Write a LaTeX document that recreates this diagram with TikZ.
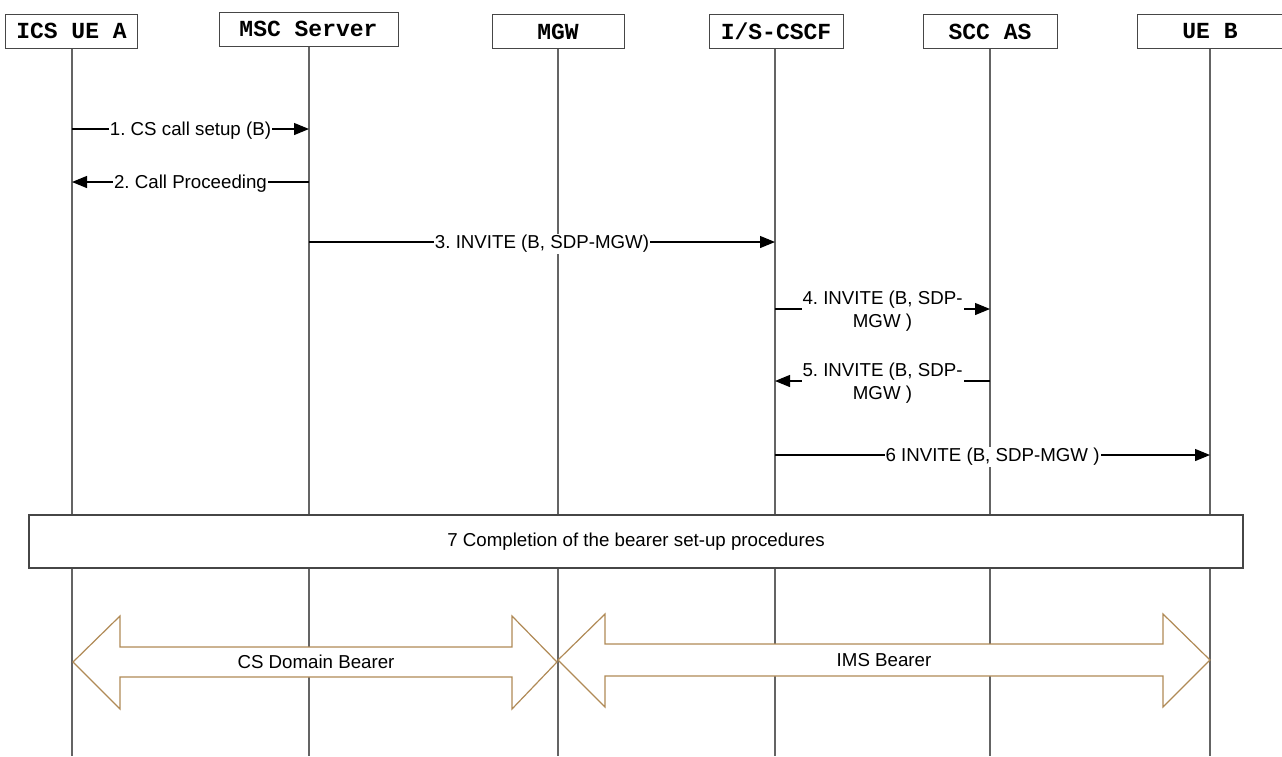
\documentclass[tikz,border=0pt]{standalone}
\usepackage{fontspec}
\setmainfont{Liberation Sans}
\newfontfamily\hdrfont{Liberation Mono}
\usetikzlibrary{arrows.meta}
\definecolor{bearer}{RGB}{176,138,86}
\definecolor{lifegray}{RGB}{100,100,100}
\definecolor{boxgray}{RGB}{70,70,70}
\frenchspacing
\begin{document}
\begin{tikzpicture}[x=1pt,y=-1pt,
  hdr/.style={draw=boxgray,line width=1pt,fill=white,font=\hdrfont\bfseries\fontsize{23}{26}\selectfont,inner sep=0pt,minimum height=34pt},
  life/.style={draw=lifegray,line width=1.3pt},
  msg/.style={draw=black,line width=1.2pt,-{Triangle[length=15pt,width=12pt]}},
  lbl/.style={fill=white,inner sep=1pt,yshift=-2pt,font=\fontsize{18.7}{23}\selectfont,align=center},
  bearerarrow/.style={draw=bearer,line width=1.2pt,fill=white},
  bigbox/.style={draw=boxgray,line width=1.2pt,fill=white,font=\fontsize{18.7}{23}\selectfont}
]
\useasboundingbox (0,0) rectangle (1282,756);
% headers
\node[hdr,minimum width=132pt] (A) at (71.5,31) {ICS UE A};
\node[hdr,minimum width=179pt] (M) at (308.5,29) {MSC Server};
\node[hdr,minimum width=132pt] (G) at (558,31.5) {MGW};
\node[hdr,minimum width=134pt] (C) at (776,31.5) {I/S-CSCF};
\node[hdr,minimum width=134pt] (S) at (990,31.5) {SCC AS};
\node[hdr,minimum width=146pt] (B) at (1210,31.5) {UE B};
% lifeline ends
\coordinate (Ae) at (72,756);
\coordinate (Me) at (309,756);
\coordinate (Ge) at (558,756);
\coordinate (Ce) at (775,756);
\coordinate (Se) at (990,756);
\coordinate (Be) at (1210,756);
\draw[life] (A.south -| Ae) -- (Ae);
\draw[life] (M.south -| Me) -- (Me);
\draw[life] (G.south -| Ge) -- (Ge);
\draw[life] (C.south -| Ce) -- (Ce);
\draw[life] (S.south -| Se) -- (Se);
\draw[life] (B.south -| Be) -- (Be);
% message endpoints
\coordinate (m1a) at (72,129);  \coordinate (m1b) at (309,129);
\coordinate (m2a) at (309,182); \coordinate (m2b) at (72,182);
\coordinate (m3a) at (309,242); \coordinate (m3b) at (775,242);
\coordinate (m4a) at (775,309); \coordinate (m4b) at (990,309);
\coordinate (m5a) at (990,381); \coordinate (m5b) at (775,381);
\coordinate (m6a) at (775,455); \coordinate (m6b) at (1210,455);
\draw[msg] (m1a) -- node[lbl] (l1) {1. CS call setup (B)} (m1b);
\draw[msg] (m2a) -- node[lbl] (l2) {2. Call Proceeding} (m2b);
\draw[msg] (m3a) -- node[lbl] (l3) {3. INVITE (B, SDP-MGW)} (m3b);
\draw[msg] (m4a) -- node[lbl] (l4) {4. INVITE (B, SDP-\\MGW )} (m4b);
\draw[msg] (m5a) -- node[lbl] (l5) {5. INVITE (B, SDP-\\MGW )} (m5b);
\draw[msg] (m6a) -- node[lbl] (l6) {6 INVITE (B, SDP-MGW )} (m6b);
% step 7 box
\node[bigbox,minimum width=1214pt,minimum height=53pt] (p7) at (636,541.5) {7 Completion of the bearer set-up procedures};
% bearers
\draw[bearerarrow] (73,662) -- (120,616) -- (120,647) -- (512,647) -- (512,616) -- (557,662) -- (512,709) -- (512,677) -- (120,677) -- (120,709) -- cycle;
\node[font=\fontsize{18.7}{23}\selectfont] (csb) at (316,662) {CS Domain Bearer};
\draw[bearerarrow] (558,660) -- (605,614) -- (605,644) -- (1163,644) -- (1163,614) -- (1210,660) -- (1163,707) -- (1163,676) -- (605,676) -- (605,707) -- cycle;
\node[font=\fontsize{18.7}{23}\selectfont] (imsb) at (884,660) {IMS Bearer};
\end{tikzpicture}
\end{document}
